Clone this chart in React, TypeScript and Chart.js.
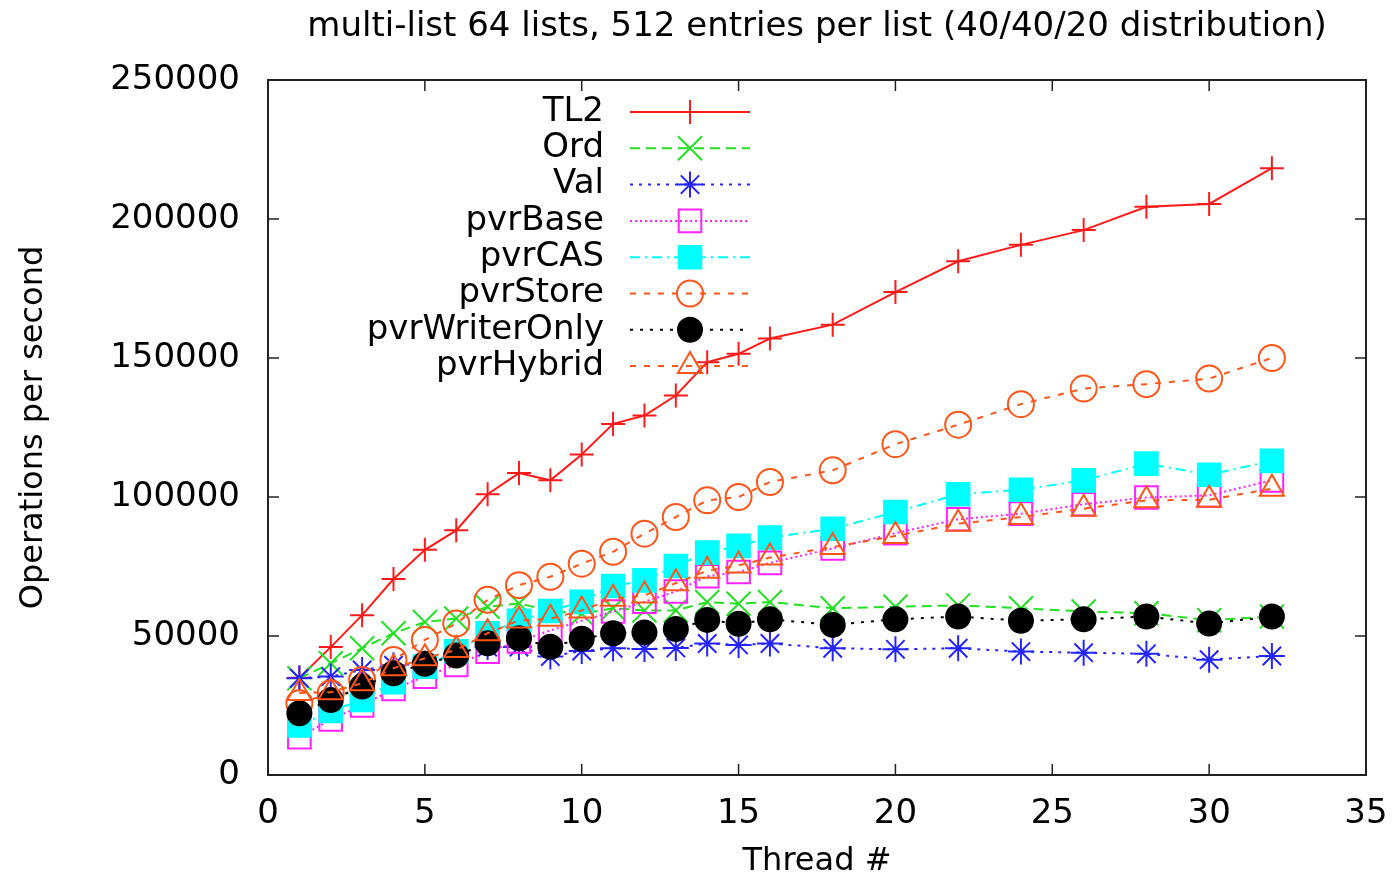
import React, { useEffect, useRef } from 'react';
import { Chart, registerables } from 'chart.js';
import { drawPoint } from 'chart.js/helpers';

Chart.register(...registerables);

const threads = [1, 2, 3, 4, 5, 6, 7, 8, 9, 10, 11, 12, 13, 14, 15, 16, 18, 20, 22, 24, 26, 28, 30, 32];

const tl2 = [35000, 46000, 57500, 70500, 81000, 88000, 101000, 108600, 106000, 115300, 126300, 129300, 136500, 148500, 151500, 157000, 162000, 173700, 184800, 190700, 196000, 204400, 205400, 218300];
const ord = [34800, 40200, 45600, 51000, 55000, 56300, 60500, 61700, 59000, 58000, 60000, 59200, 59200, 62200, 61600, 62200, 60000, 60500, 61000, 60000, 58800, 58200, 55700, 57000];
const val = [34800, 35400, 37800, 39500, 40000, 43800, 46000, 46000, 42600, 44600, 45600, 45300, 45700, 47300, 46800, 47300, 45600, 45200, 45600, 44400, 44000, 43600, 41500, 42800];
const pvrBase = [13600, 20000, 25000, 31000, 35400, 39600, 44400, 48000, 52000, 55500, 58800, 62300, 66000, 71500, 73000, 76300, 81500, 87000, 92000, 94000, 97400, 99800, 100600, 106000];
const pvrCAS = [17800, 23000, 27000, 33400, 39000, 44500, 51000, 55500, 59000, 62300, 68000, 70000, 75200, 80000, 82400, 85400, 88600, 94600, 101000, 102600, 106000, 112000, 108000, 113000];
const pvrStore = [25800, 29400, 34200, 41400, 48600, 54500, 63000, 68300, 71300, 76000, 80300, 86800, 92800, 98800, 100000, 105400, 109600, 119000, 126000, 133400, 139000, 140600, 142600, 150000];
const pvrWriterOnly = [22200, 27000, 31800, 36600, 40000, 43000, 47400, 49200, 46100, 49000, 51000, 51300, 52500, 55800, 54400, 56000, 54000, 56000, 57000, 55500, 56000, 57000, 54500, 57000];
const pvrHybrid = [29500, 29800, 33000, 38400, 42000, 45000, 51000, 55600, 56200, 59200, 63400, 64600, 69000, 73500, 75400, 78200, 82000, 86000, 90400, 92800, 95800, 98800, 99000, 103000];

const xMin = 0;
const xMax = 35;
const xStep = 5;
const yMin = 0;
const yMax = 250000;
const yStep = 50000;

const titleText = 'multi-list 64 lists, 512 entries per list (40/40/20 distribution)';
const xTitle = 'Thread #';
const yTitle = 'Operations per second';

const FONT = '"DejaVu Sans", "Liberation Sans", sans-serif';

type SeriesDef = {
  label: string;
  values: number[];
  color: string;
  dash: number[];
  style: string;
  radius: number;
  filled: boolean;
};

const series: SeriesDef[] = [
  { label: 'TL2', values: tl2, color: '#ff1a1a', dash: [], style: 'cross', radius: 12, filled: false },
  { label: 'Ord', values: ord, color: '#22e022', dash: [10, 6], style: 'crossRot', radius: 17, filled: false },
  { label: 'Val', values: val, color: '#2424ff', dash: [3, 6], style: 'star', radius: 13, filled: false },
  { label: 'pvrBase', values: pvrBase, color: '#ff22ff', dash: [2, 3], style: 'rect', radius: 16, filled: false },
  { label: 'pvrCAS', values: pvrCAS, color: '#00ffff', dash: [10, 5, 2, 5], style: 'rect', radius: 16, filled: true },
  { label: 'pvrStore', values: pvrStore, color: '#ff5518', dash: [6, 8], style: 'circle', radius: 13, filled: false },
  { label: 'pvrWriterOnly', values: pvrWriterOnly, color: '#000000', dash: [3, 7], style: 'circle', radius: 12, filled: true },
  { label: 'pvrHybrid', values: pvrHybrid, color: '#ff5518', dash: [6, 8], style: 'triangle', radius: 14, filled: false },
];

const titlePlugin = {
  id: 'gnuTitle',
  afterDraw(chart: any) {
    const { ctx, chartArea } = chart;
    ctx.save();
    ctx.font = '34px ' + FONT;
    ctx.fillStyle = '#000';
    ctx.textAlign = 'center';
    ctx.textBaseline = 'middle';
    ctx.fillText(titleText, (chartArea.left + chartArea.right) / 2, 27);
    ctx.restore();
  },
};

const framePlugin = {
  id: 'gnuFrame',
  beforeDatasetsDraw(chart: any) {
    const { ctx, chartArea } = chart;
    const { left, right, top, bottom } = chartArea;
    const xs = chart.scales.x;
    const ys = chart.scales.y;
    ctx.save();
    ctx.strokeStyle = '#222';
    ctx.lineWidth = 2;
    ctx.strokeRect(left, top, right - left, bottom - top);
    ctx.lineWidth = 1.5;
    const tl = 11;
    ctx.beginPath();
    ys.ticks.forEach((t: any) => {
      const py = ys.getPixelForValue(t.value);
      ctx.moveTo(left, py);
      ctx.lineTo(left + tl, py);
      ctx.moveTo(right, py);
      ctx.lineTo(right - tl, py);
    });
    xs.ticks.forEach((t: any) => {
      const px = xs.getPixelForValue(t.value);
      ctx.moveTo(px, bottom);
      ctx.lineTo(px, bottom - tl);
      ctx.moveTo(px, top);
      ctx.lineTo(px, top + tl);
    });
    ctx.stroke();
    ctx.restore();
  },
};

const legendPlugin = {
  id: 'gnuLegend',
  afterDatasetsDraw(chart: any) {
    const { ctx, chartArea } = chart;
    const x0 = chartArea.left;
    chart.data.datasets.forEach((ds: any, i: number) => {
      const y = chartArea.top + 32 + i * 36.3;
      ctx.save();
      ctx.font = '34px ' + FONT;
      ctx.fillStyle = '#000';
      ctx.textAlign = 'right';
      ctx.textBaseline = 'middle';
      ctx.fillText(ds.label, x0 + 336, y);
      ctx.strokeStyle = ds.borderColor;
      ctx.lineWidth = 2;
      ctx.setLineDash(ds.borderDash || []);
      ctx.beginPath();
      ctx.moveTo(x0 + 362, y);
      ctx.lineTo(x0 + 482, y);
      ctx.stroke();
      ctx.setLineDash([]);
      ctx.fillStyle = ds.pointBackgroundColor;
      ctx.strokeStyle = ds.pointBorderColor;
      ctx.lineWidth = ds.pointBorderWidth;
      drawPoint(ctx, { pointStyle: ds.pointStyle, radius: ds.pointRadius, borderWidth: ds.pointBorderWidth, rotation: 0 } as any, x0 + 422, y);
      ctx.restore();
    });
  },
};

export default function App() {
  const canvasRef = useRef<HTMLCanvasElement | null>(null);

  useEffect(() => {
    if (!canvasRef.current) return;
    const datasets = series.map((s, i) => ({
      label: s.label,
      data: threads.map((t, k) => ({ x: t, y: s.values[k] })),
      borderColor: s.color,
      backgroundColor: s.color,
      borderWidth: 2,
      borderDash: s.dash,
      pointStyle: s.style,
      pointRadius: s.radius,
      pointBorderWidth: 2,
      pointBorderColor: s.color,
      pointBackgroundColor: s.filled ? s.color : 'rgba(0,0,0,0)',
      tension: 0,
      fill: false,
      order: series.length - i,
    }));

    const chart = new Chart(canvasRef.current, {
      type: 'line',
      data: { datasets },
      options: {
        animation: false,
        responsive: true,
        maintainAspectRatio: false,
        events: [],
        layout: { padding: { left: 0, right: 30, top: 80, bottom: 0 } },
        plugins: {
          legend: { display: false },
          tooltip: { enabled: false },
          title: { display: false },
        },
        scales: {
          x: {
            type: 'linear',
            min: xMin,
            max: xMax,
            grid: { display: false, drawTicks: false },
            border: { display: false },
            ticks: {
              stepSize: xStep,
              color: '#000',
              padding: 19,
              font: { family: FONT, size: 34 },
              maxRotation: 0,
            },
            title: {
              display: true,
              text: xTitle,
              color: '#000',
              font: { family: FONT, size: 32 },
              padding: { top: 0, bottom: 0 },
            },
            afterFit(scale: any) {
              scale.height = 106;
              scale.paddingLeft = 0;
              scale.paddingRight = 0;
            },
          },
          y: {
            type: 'linear',
            min: yMin,
            max: yMax,
            grid: { display: false, drawTicks: false },
            border: { display: false },
            ticks: {
              stepSize: yStep,
              color: '#000',
              padding: 28,
              font: { family: FONT, size: 34 },
              callback: (v: any) => String(v),
            },
            title: {
              display: true,
              text: yTitle,
              color: '#000',
              font: { family: FONT, size: 32 },
              padding: { top: 14, bottom: 14 },
            },
            afterFit(scale: any) {
              scale.width = 268;
              scale.paddingTop = 0;
              scale.paddingBottom = 0;
            },
          },
        },
      },
      plugins: [framePlugin, legendPlugin, titlePlugin],
    } as any);

    return () => chart.destroy();
  }, []);

  return (
    <div style={{ position: 'absolute', left: 0, top: 0, width: 1396, height: 881, background: '#fff' }}>
      <canvas ref={canvasRef} />
    </div>
  );
}
